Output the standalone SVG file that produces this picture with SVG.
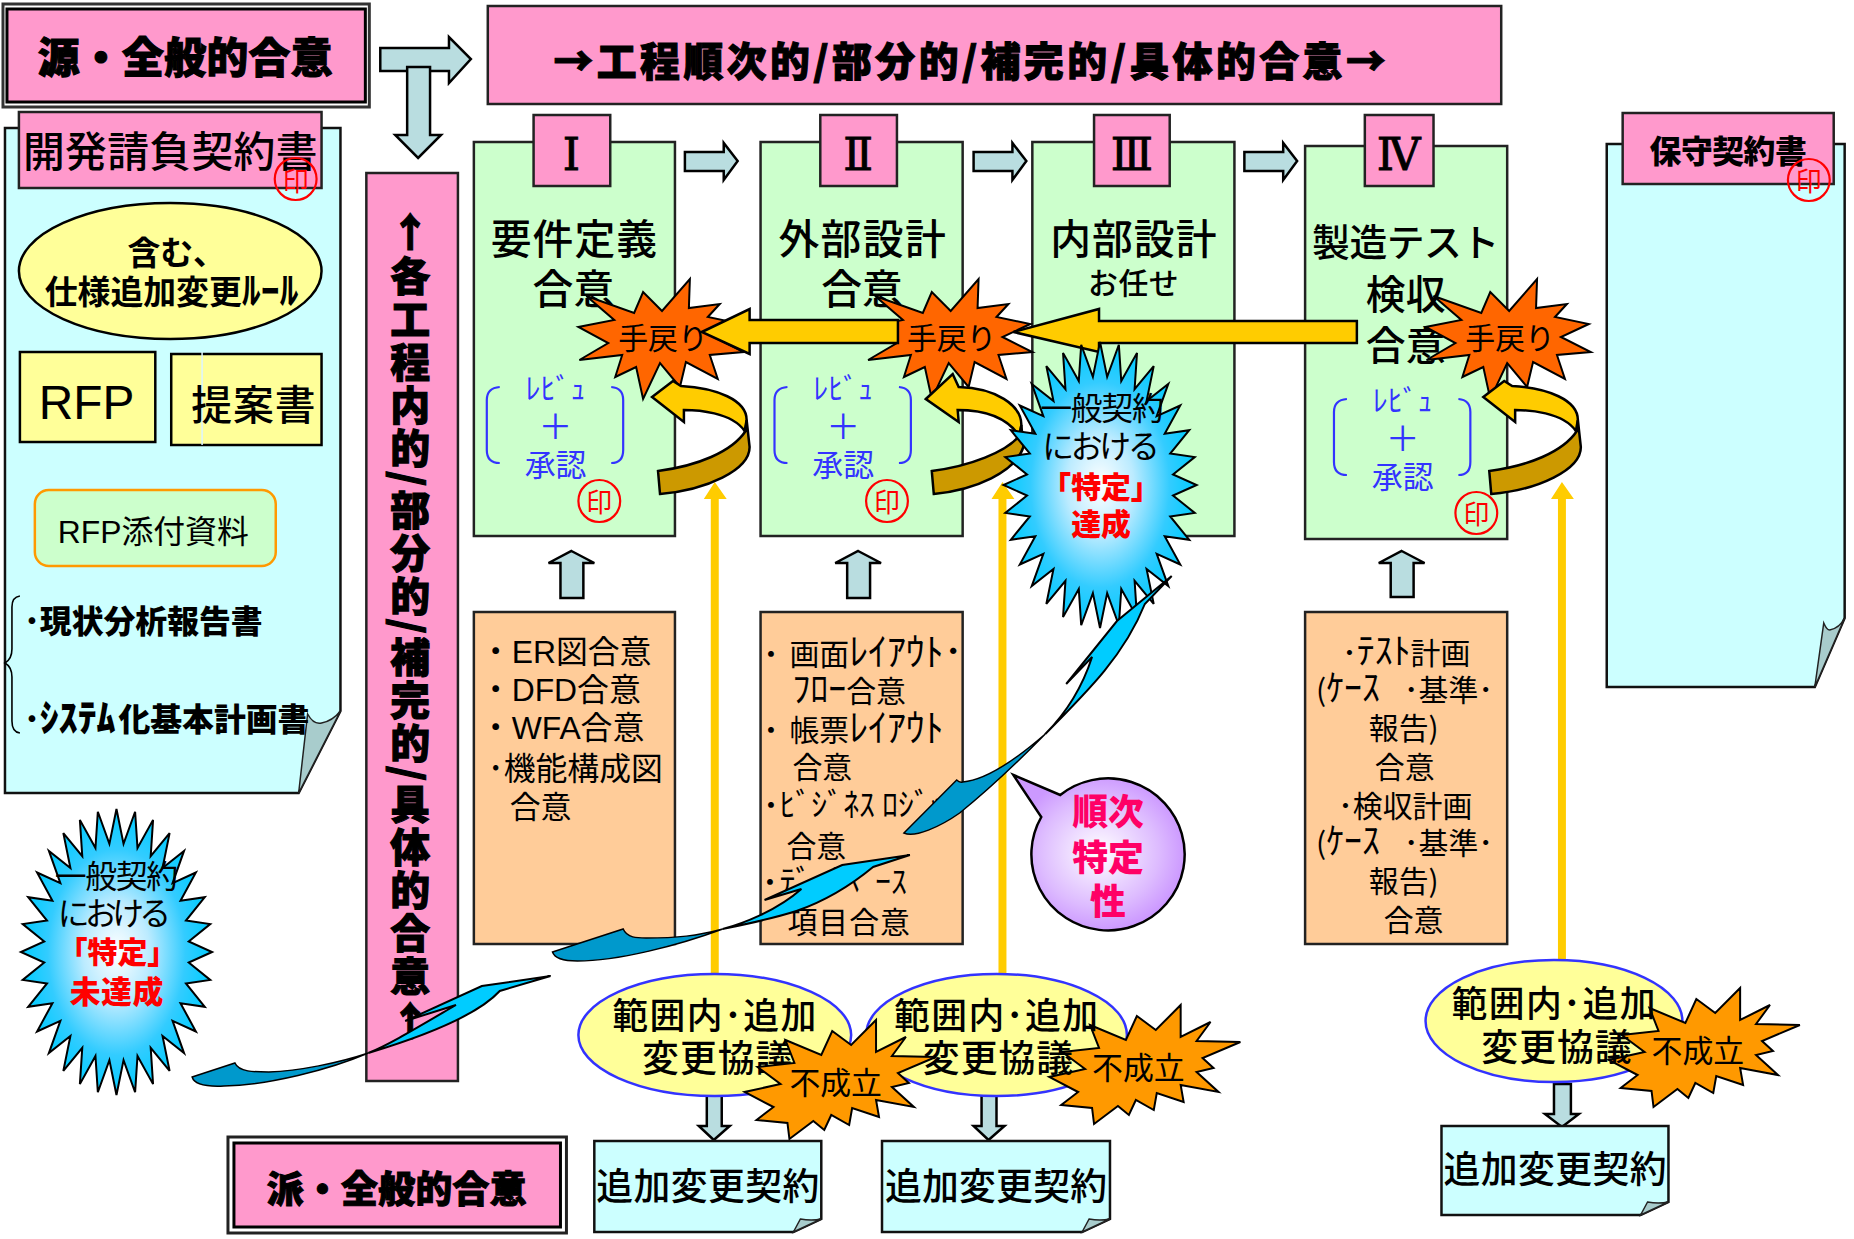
<svg xmlns="http://www.w3.org/2000/svg" xmlns:xlink="http://www.w3.org/1999/xlink" width="1854" height="1239" viewBox="0 0 1854 1239">
<style>
text{font-family:"Noto Sans CJK JP","Noto Sans",sans-serif;fill:#000}
.b{font-weight:900}.m{font-weight:500}.c{text-anchor:middle}.s{font-weight:700}
.h{font-weight:900;stroke:#000;stroke-width:1.1}
.rom{font-family:"DejaVu Serif","Liberation Serif",serif;text-anchor:middle;stroke:#000;stroke-width:.9}
.lat{font-family:"Liberation Sans","Noto Sans CJK JP",sans-serif}
.pink{fill:#FF99CC;stroke:#222;stroke-width:2.5}
.green{fill:#CCFFCC;stroke:#222;stroke-width:2.5}
.cyan{fill:#CCFFFF;stroke:#111;stroke-width:2.5}
.orange{fill:#FFCC99;stroke:#222;stroke-width:2.5}
.yellow{fill:#FFFF99;stroke:#000;stroke-width:2.5}
.fold{fill:#A8CCCC;stroke:#222;stroke-width:1.5}
.arrow{fill:#B9DDE0;stroke:#000;stroke-width:2.5}
.gold{fill:#FFCC00;stroke:#000;stroke-width:2.5}
.dark{fill:#CC9900;stroke:#000;stroke-width:2.5}
.thin{fill:#FFCC00}
.stamp{fill:none;stroke:#FF0000;stroke-width:2.2}
.red{fill:#FF0000}.blue{fill:#3333FF}
.br{fill:none;stroke:#3333FF;stroke-width:2.2}
.oval{fill:#FFFF99;stroke:#3333FF;stroke-width:2.5}
.bolt{fill:#00CCFF;stroke:#000;stroke-width:2}
.boltd{fill:#0099CC;stroke:#000;stroke-width:1.5}
.rw{fill:#FF6600;stroke:#000;stroke-width:2}
.ng{fill:#FF9900;stroke:#000;stroke-width:2}
.spk{fill:url(#sky);stroke:#000;stroke-width:2}
</style>
<defs>
<radialGradient id="sky"><stop offset="0" stop-color="#FFFFFF"/><stop offset=".35" stop-color="#BBEBFF"/><stop offset=".72" stop-color="#33CCFF"/><stop offset="1" stop-color="#00CCFF"/></radialGradient>
<radialGradient id="vio"><stop offset="0" stop-color="#FFFFFF"/><stop offset=".7" stop-color="#DDBBFF"/><stop offset="1" stop-color="#CC99FF"/></radialGradient>
<polygon id="spike" vector-effect="non-scaling-stroke" points="1000,0 756,74 981,195 727,220 924,383 670,358 831,556 587,482 707,707 482,587 556,831 358,670 383,924 220,727 195,981 74,756 0,1000 -74,756 -195,981 -220,727 -383,924 -358,670 -556,831 -482,587 -707,707 -587,482 -831,556 -670,358 -924,383 -727,220 -981,195 -756,74 -1000,0 -756,-74 -981,-195 -727,-220 -924,-383 -670,-358 -831,-556 -587,-482 -707,-707 -482,-587 -556,-831 -358,-670 -383,-924 -220,-727 -195,-981 -74,-756 0,-1000 74,-756 195,-981 220,-727 383,-924 358,-670 556,-831 482,-587 707,-707 587,-482 831,-556 670,-358 924,-383 727,-220 981,-195 756,-74"/>
<polygon id="rwb" class="rw" points="589,296 637,313 646,292 665,311 693,279 692,308 723,304 711,317 745,324 717,337 747,352 713,355 721,379 689,362 683,387 663,363 646,399 639,367 618,377 625,355 582,360 611,343 581,327 617,320"/>
<polygon id="ngb" class="ng" points="789,1040 825,1055 836,1031 855,1045 880,1020 880,1052 910,1037 896,1056 940,1057 902,1073 913,1083 896,1087 918,1107 880,1100 883,1117 856,1108 853,1125 835,1115 828,1130 817,1121 793,1139 791,1123 760,1120 777,1107 748,1092 784,1084 761,1067 798,1063"/>
<g id="curl">
<path class="gold" d="M655,397L676,381L684,386C720,388 750,400 750,420L748,431C735,412 700,410 687,410L687,422Z"/>
<path class="dark" d="M750,420L753,447C753,470 710,490 663,494L661,471C700,466 735,452 749,431Z"/>
</g>
<g id="review">
<text class="blue c" x="558" y="399" font-size="30">ﾚﾋﾞｭ</text>
<text class="blue c" x="558" y="439" font-size="34">＋</text>
<text class="blue c" x="558" y="476" font-size="31">承認</text>
<path class="br" d="M502,387Q489,388 489,400V450Q489,463 502,463M614,387Q626,388 626,400V450Q626,463 614,463"/>
</g>
</defs>
<g id="diagram" transform="scale(.9955,1)">
<g id="source-agreement">
<rect x="3" y="4" width="368" height="103" fill="#fff" stroke="#333" stroke-width="3"/>
<rect x="7" y="9" width="360" height="93" fill="#FF99CC" stroke="#000" stroke-width="3"/>
<text class="h" x="38" y="73" font-size="42" textLength="296">源・全般的合意</text>
</g>
<g id="phase-title">
<rect class="pink" x="490" y="6" width="1018" height="98"/>
<text class="h" x="556" y="76" font-size="40" textLength="836">→工程順次的/部分的/補完的/具体的合意→</text>
</g>
<g id="dev-contract">
<path class="cyan" d="M5,128H342V711L300,793H5Z"/>
<path class="fold" d="M300,793L309,714Q315,725 323,723Q334,721 342,711Z"/>
<rect class="pink" x="19" y="112" width="304" height="76"/>
<text class="m" x="23" y="167" font-size="42" textLength="296">開発請負契約書</text>
<ellipse class="stamp" cx="297" cy="179" rx="21" ry="21"/>
<text class="red c" x="297" y="191" font-size="26">印</text>
</g>
<g id="rule-ellipse">
<ellipse class="yellow" cx="171" cy="271" rx="152" ry="68"/>
<text class="s" x="128" y="265" font-size="33">含む、</text>
<text class="s" x="45" y="304" font-size="33">仕様追加変更<tspan font-size="38">ﾙｰﾙ</tspan></text>
</g>
<g id="rfp">
<rect class="yellow" x="20" y="352" width="136" height="90"/>
<text class="lat" x="39" y="419" font-size="48">RFP</text>
</g>
<g id="proposal">
<rect class="yellow" x="172" y="354" width="151" height="91"/>
<line x1="203" y1="352" x2="203" y2="445" stroke="#DDF4FF" stroke-width="1.5"/>
<text class="m" x="192" y="420" font-size="41" textLength="125" fill="#222">提案書</text>
</g>
<g id="rfp-attachment">
<rect x="35" y="490" width="242" height="76" rx="14" fill="#CCFFCC" stroke="#FF9900" stroke-width="2.5"/>
<text class="lat" x="58" y="543" font-size="32">RFP添付資料</text>
</g>
<g id="attachment-list">
<path d="M20,596Q12,597 12,607V649Q12,659 5,663Q12,667 12,677V721Q12,732 20,733" fill="none" stroke="#000" stroke-width="1.6"/>
<text class="b" x="24" y="633" font-size="32">･現状分析報告書</text>
<text class="b" x="24" y="731" font-size="32">･<tspan font-size="38" x="40">ｼｽﾃﾑ</tspan><tspan x="119">化基本計画書</tspan></text>
</g>
<g id="process-band">
<rect class="pink" x="368" y="173" width="92" height="908"/>
<text class="h c" x="412" y="247" font-size="40">↑</text>
<text class="h" x="412" y="256" font-size="40" letter-spacing="3" style="writing-mode:vertical-rl">各工程内的/部分的/補完的/具体的合意</text>
<text class="h c" x="412" y="1036" font-size="40">↑</text>
</g>
<g id="stage-1">
<rect class="green" x="476" y="142" width="202" height="394"/>
<rect class="pink" x="536" y="115" width="77" height="71"/>
<text class="rom" x="574" y="170" font-size="44">Ⅰ</text>
<text class="m" x="493" y="254" font-size="41" textLength="167">要件定義</text>
<text class="m" x="535" y="304" font-size="41" textLength="82">合意</text>
<use xlink:href="#review" href="#review"/>
<circle class="stamp" cx="602" cy="501" r="21"/>
<text class="red c" x="602" y="512" font-size="26">印</text>
</g>
<g id="stage-2">
<rect class="green" x="764" y="142" width="203" height="394"/>
<rect class="pink" x="824" y="115" width="77" height="71"/>
<text class="rom" x="862" y="170" font-size="44">Ⅱ</text>
<text class="m" x="782" y="254" font-size="41" textLength="168">外部設計</text>
<text class="m" x="825" y="304" font-size="41" textLength="82">合意</text>
<use xlink:href="#review" href="#review" transform="translate(289,0)"/>
<circle class="stamp" cx="891" cy="501" r="21"/>
<text class="red c" x="891" y="512" font-size="26">印</text>
</g>
<g id="stage-3">
<rect class="green" x="1037" y="142" width="203" height="394"/>
<rect class="pink" x="1099" y="115" width="76" height="71"/>
<text class="rom" x="1137" y="170" font-size="44">Ⅲ</text>
<text class="m" x="1055" y="254" font-size="41" textLength="167">内部設計</text>
<text class="m" x="1093" y="294" font-size="30" textLength="91">お任せ</text>
</g>
<g id="stage-4">
<rect class="green" x="1311" y="146" width="203" height="393"/>
<rect class="pink" x="1371" y="115" width="69" height="71"/>
<text class="rom" x="1405" y="170" font-size="44">Ⅳ</text>
<text class="m" x="1318" y="256" font-size="38" textLength="188">製造テスト</text>
<text class="m" x="1372" y="309" font-size="40" textLength="80">検収</text>
<text class="m" x="1372" y="360" font-size="40" textLength="80">合意</text>
<use xlink:href="#review" href="#review" transform="translate(851,12)"/>
<circle class="stamp" cx="1483" cy="513" r="21"/>
<text class="red c" x="1483" y="524" font-size="26">印</text>
</g>
<g id="doc-1">
<rect class="orange" x="476" y="612" width="202" height="332"/>
<text class="lat" x="482" y="663" font-size="32">・ER図合意</text>
<text class="lat" x="482" y="701" font-size="32">・DFD合意</text>
<text class="lat" x="482" y="739" font-size="32">・WFA合意</text>
<text class="lat" x="490" y="780" font-size="32">･機能構成図</text>
<text class="lat" x="512" y="818" font-size="31">合意</text>
</g>
<g id="doc-2">
<rect class="orange" x="764" y="612" width="203" height="332"/>
<text class="s" x="767" y="665" font-size="30">･</text>
<text x="793" y="665" font-size="30">画面<tspan font-size="38">ﾚｲｱｳﾄ･</tspan></text>
<text x="796" y="702" font-size="30"><tspan font-size="36">ﾌﾛｰ</tspan>合意</text>
<text class="s" x="767" y="741" font-size="30">･</text>
<text x="793" y="741" font-size="30">帳票<tspan font-size="38">ﾚｲｱｳﾄ</tspan></text>
<text x="796" y="778" font-size="30">合意</text>
<text class="s" x="767" y="816" font-size="30">･</text>
<text x="783" y="816" font-size="32">ﾋﾞｼﾞﾈｽ ﾛｼﾞｯｸ</text>
<text x="790" y="857" font-size="30">合意</text>
<text class="s" x="766" y="893" font-size="30">･</text>
<text x="783" y="893" font-size="32">ﾃﾞｰﾀﾍﾞｰｽ</text>
<text x="791" y="933" font-size="30" textLength="123">項目合意</text>
</g>
<g id="doc-4">
<rect class="orange" x="1311" y="612" width="203" height="332"/>
<text x="1348" y="664" font-size="30">･<tspan font-size="36">ﾃｽﾄ</tspan>計画</text>
<text x="1322" y="701" font-size="30">(<tspan font-size="36">ｹｰｽ</tspan><tspan x="1410">･基準･</tspan></text>
<text x="1375" y="739" font-size="30">報告)</text>
<text x="1381" y="778" font-size="30">合意</text>
<text x="1344" y="817" font-size="30">･検収計画</text>
<text x="1322" y="854" font-size="30">(<tspan font-size="36">ｹｰｽ</tspan><tspan x="1410">･基準･</tspan></text>
<text x="1375" y="892" font-size="30">報告)</text>
<text x="1390" y="931" font-size="30">合意</text>
</g>
<g id="maintenance-contract">
<path class="cyan" d="M1614,144V687H1823L1853,618V144Z"/>
<path class="fold" d="M1823,687L1832,623Q1835,630 1838,630Q1848,628 1853,618Z"/>
<rect class="pink" x="1630" y="113" width="212" height="71"/>
<text class="b" x="1657" y="163" font-size="32" textLength="158">保守契約書</text>
<circle class="stamp" cx="1817" cy="180" r="21"/>
<text class="red c" x="1817" y="191" font-size="26">印</text>
</g>
<g id="rework-1">
<use xlink:href="#rwb" href="#rwb"/>
<text x="621" y="349" font-size="30">手戻り</text>
</g>
<g id="rework-2">
<use xlink:href="#rwb" href="#rwb" transform="translate(290,0)"/>
<text x="911" y="349" font-size="30">手戻り</text>
</g>
<g id="rework-4">
<use xlink:href="#rwb" href="#rwb" transform="translate(851,0)"/>
<text x="1472" y="349" font-size="30">手戻り</text>
</g>
<g id="connectors">
<path class="arrow" d="M382,48H451V37L473,59L451,83V71H382Z"/>
<path class="arrow" d="M409,67H432V135H443L420,158L397,135H409Z"/>
<path class="arrow" d="M688,152H727V143L741,161L727,180V171H688Z"/>
<path class="arrow" d="M978,152H1017V143L1031,161L1017,180V171H978Z"/>
<path class="arrow" d="M1250,152H1289V143L1303,161L1289,180V171H1250Z"/>
<path class="arrow" d="M574,551L597,563H586V598H563V563H551Z"/>
<path class="arrow" d="M862,551L885,563H874V598H851V563H839Z"/>
<path class="arrow" d="M1408,551L1431,563H1420V597H1397V563H1385Z"/>
<path class="arrow" d="M710,1095H725V1126H733L717,1140L702,1126H710Z"/>
<path class="arrow" d="M986,1095H1001V1126H1009L993,1140L978,1126H986Z"/>
<path class="arrow" d="M1561,1084H1578V1114H1586L1569,1127L1552,1114H1561Z"/>
<path class="thin" d="M714,985V499H707L718,482L730,499H722V985Z"/>
<path class="thin" d="M1003,985V499H996L1007,482L1019,499H1011V985Z"/>
<path class="thin" d="M1565,970V499H1558L1569,482L1581,499H1573V970Z"/>
<path class="gold" d="M705,332L753,309V320H902V343H753V354Z"/>
<path class="gold" d="M1018,332L1104,309V321H1363V343H1104V352Z"/>
<use xlink:href="#curl" href="#curl"/>
<path class="gold" d="M930,399L957,374L963,387C1000,388 1026,405 1026,425L1024,436C1010,415 985,410 962,410L963,422Z"/>
<path class="dark" d="M1026,425L1028,447C1020,472 980,490 938,494L936,471C975,466 1010,452 1024,436Z"/>
<use xlink:href="#curl" href="#curl" transform="translate(835,0)"/>
</g>
<g id="callout-order">
<path d="M1018,775L1065,795A77,76 0 1 1 1046,817Z" fill="url(#vio)" stroke="#000" stroke-width="2.5"/>
<text class="b c" x="1113" y="825" font-size="36" style="fill:#FF0066">順次</text>
<text class="b c" x="1113" y="871" font-size="36" style="fill:#FF0066">特定</text>
<text class="b c" x="1113" y="915" font-size="36" style="fill:#FF0066">性</text>
</g>
<g id="negotiation-1">
<ellipse class="oval" cx="718" cy="1035" rx="137" ry="61"/>
<text class="m" x="615" y="1029" font-size="36" textLength="205">範囲内･追加</text>
<text class="m" x="645" y="1072" font-size="37" textLength="151">変更協議</text>
</g>
<g id="negotiation-2-oval">
<ellipse class="oval" cx="1001" cy="1035" rx="131" ry="61"/>
</g>
<g id="failed-1">
<use xlink:href="#ngb" href="#ngb"/>
<text x="793" y="1094" font-size="31">不成立</text>
</g>
<g id="failed-2">
<use xlink:href="#ngb" href="#ngb" transform="translate(306,-15)"/>
<text x="1097" y="1079" font-size="31">不成立</text>
</g>
<g id="negotiation-2">
<text class="m" x="898" y="1029" font-size="36" textLength="205">範囲内･追加</text>
<text class="m" x="927" y="1072" font-size="37" textLength="151">変更協議</text>
</g>
<g id="negotiation-4">
<ellipse class="oval" cx="1561" cy="1021" rx="129" ry="61"/>
</g>
<g id="failed-4">
<use xlink:href="#ngb" href="#ngb" transform="translate(868,-32)"/>
<text x="1659" y="1062" font-size="31">不成立</text>
</g>
<g id="negotiation-4-text">
<text class="m" x="1458" y="1017" font-size="36" textLength="205">範囲内･追加</text>
<text class="m" x="1488" y="1061" font-size="37" textLength="151">変更協議</text>
</g>
<g id="change-contract-1">
<path class="cyan" d="M597,1141H825V1219L797,1232H597Z"/>
<path class="fold" d="M797,1232L804,1219Q815,1221 825,1219Z"/>
<text class="m" x="599" y="1200" font-size="37" textLength="224">追加変更契約</text>
</g>
<g id="change-contract-2">
<path class="cyan" d="M886,1141H1115V1219L1087,1232H886Z"/>
<path class="fold" d="M1087,1232L1094,1219Q1105,1221 1115,1219Z"/>
<text class="m" x="889" y="1200" font-size="37" textLength="223">追加変更契約</text>
</g>
<g id="change-contract-4">
<path class="cyan" d="M1448,1126H1676V1202L1648,1215H1448Z"/>
<path class="fold" d="M1648,1215L1655,1202Q1666,1204 1676,1202Z"/>
<text class="m" x="1450" y="1183" font-size="37" textLength="224">追加変更契約</text>
</g>
<g id="derived-agreement">
<rect x="229" y="1137" width="340" height="96" fill="#fff" stroke="#222" stroke-width="3"/>
<rect x="235" y="1143" width="328" height="84" fill="#FF99CC" stroke="#000" stroke-width="3"/>
<text class="h" x="268" y="1203" font-size="37" textLength="261">派・全般的合意</text>
</g>
<g id="specified-achieved">
<use xlink:href="#spike" href="#spike" class="spk" transform="translate(1105,485) scale(.097,.143)"/>
<text x="1045" y="420" font-size="32" textLength="124">一般契約</text>
<text x="1047" y="458" font-size="32" textLength="118">における</text>
<text class="b c" x="1106" y="498" font-size="30" style="fill:#F00">「特定」</text>
<text class="b" x="1076" y="535" font-size="30" style="fill:#F00">達成</text>
</g>
<g id="specified-missed">
<use xlink:href="#spike" href="#spike" class="spk" transform="translate(117,952) scale(.096,.143)"/>
<text x="55" y="888" font-size="32" textLength="124">一般契約</text>
<text x="58" y="925" font-size="32" textLength="114">における</text>
<text class="b c" x="118" y="963" font-size="30" style="fill:#F00">「特定」</text>
<text class="b" x="70" y="1003" font-size="31" textLength="94" style="fill:#F00">未達成</text>
</g>
<g id="bolts">
<path class="boltd" d="M193,1077L236,1063C240,1072 255,1072 270,1072C300,1071 340,1063 370,1053C330,1070 270,1085 225,1086C205,1087 195,1084 193,1077Z"/>
<path class="bolt" d="M370,1053C390,1045 415,1030 458,1005L407,1021L484,986L553,976L502,991C480,1015 430,1035 370,1053Z"/>
<path class="boltd" d="M555,952L626,929C630,938 640,938 649,938C680,938 700,936 726,929C680,946 620,961 580,961C565,961 557,958 555,952Z"/>
<path class="bolt" d="M726,929C745,924 780,911 805,889L768,900L846,865L914,855L877,867C860,881 832,900 800,911C775,919 750,924 726,929Z"/>
<path class="boltd" d="M908,833L961,780Q964,783 967,782C990,780 1020,760 1050,734C1030,754 1005,780 964,813C944,827 919,838 908,833Z"/>
<path class="bolt" d="M1050,734C1065,719 1085,694 1097,657L1071,684L1122,621L1177,576L1150,604C1130,654 1095,689 1050,734Z"/>
</g>
</g>
</svg>
